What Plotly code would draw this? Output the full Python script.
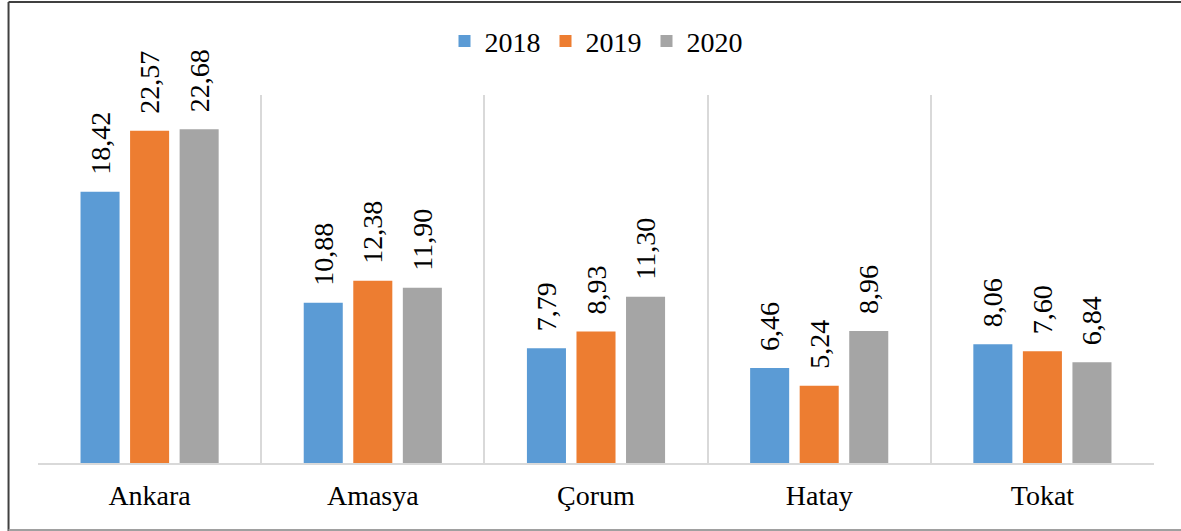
import plotly.graph_objects as go

categories = ["Ankara", "Amasya", "Çorum", "Hatay", "Tokat"]
years = ["2018", "2019", "2020"]
values_2018 = [18.42, 10.88, 7.79, 6.46, 8.06]
values_2019 = [22.57, 12.38, 8.93, 5.24, 7.60]
values_2020 = [22.68, 11.90, 11.30, 8.96, 6.84]
colors = ["#5B9BD5", "#ED7D31", "#A5A5A5"]

FONT = "Liberation Serif"

fig = go.Figure()
for name, vals, col in zip(years, [values_2018, values_2019, values_2020], colors):
    fig.add_trace(go.Bar(
        x=categories, y=vals, name=name,
        marker=dict(color=col, line=dict(width=0)),
        texttemplate="\u00a0\u00a0%{y:.2f}",
        textposition="outside", textangle=-90,
        textfont=dict(family=FONT, size=28, color="black"),
        constraintext="none", cliponaxis=False,
    ))

fig.update_layout(
    width=1181, height=531,
    margin=dict(l=38, r=27, t=95, b=68),
    paper_bgcolor="white", plot_bgcolor="white",
    separators=",.",
    barmode="group", bargap=0.334, bargroupgap=0.212,
    font=dict(family=FONT, size=28, color="black"),
    legend=dict(orientation="h", x=0.5, xanchor="center", y=1.146, yanchor="middle",
                font=dict(family=FONT, size=28), itemclick=False),
    showlegend=True,
)
fig.update_xaxes(
    type="category", tickson="boundaries", showgrid=True, gridcolor="#D9D9D9", gridwidth=1.5,
    showline=True, linecolor="#D9D9D9", linewidth=2, ticks="",
    tickfont=dict(family=FONT, size=28, color="black"), ticklabelstandoff=6,
    mirror=False,
)
fig.update_yaxes(range=[0, 25], visible=False, showgrid=False, zeroline=False)

# outer frame of the original image
fig.add_shape(type="line", xref="paper", yref="paper", x0=-0.0264, x1=-0.0264, y0=-0.185, y1=1.253,
              line=dict(color="#404040", width=2))
fig.add_shape(type="line", xref="paper", yref="paper", x0=-0.0264, x1=1.03, y0=1.253, y1=1.253,
              line=dict(color="#404040", width=2))
fig.add_shape(type="line", xref="paper", yref="paper", x0=-0.0264, x1=1.03, y0=-0.182, y1=-0.182,
              line=dict(color="#A0A0A0", width=2))

fig.write_html("out.html", config={"displayModeBar": False},
               post_script="document.body.style.margin='0px';")
